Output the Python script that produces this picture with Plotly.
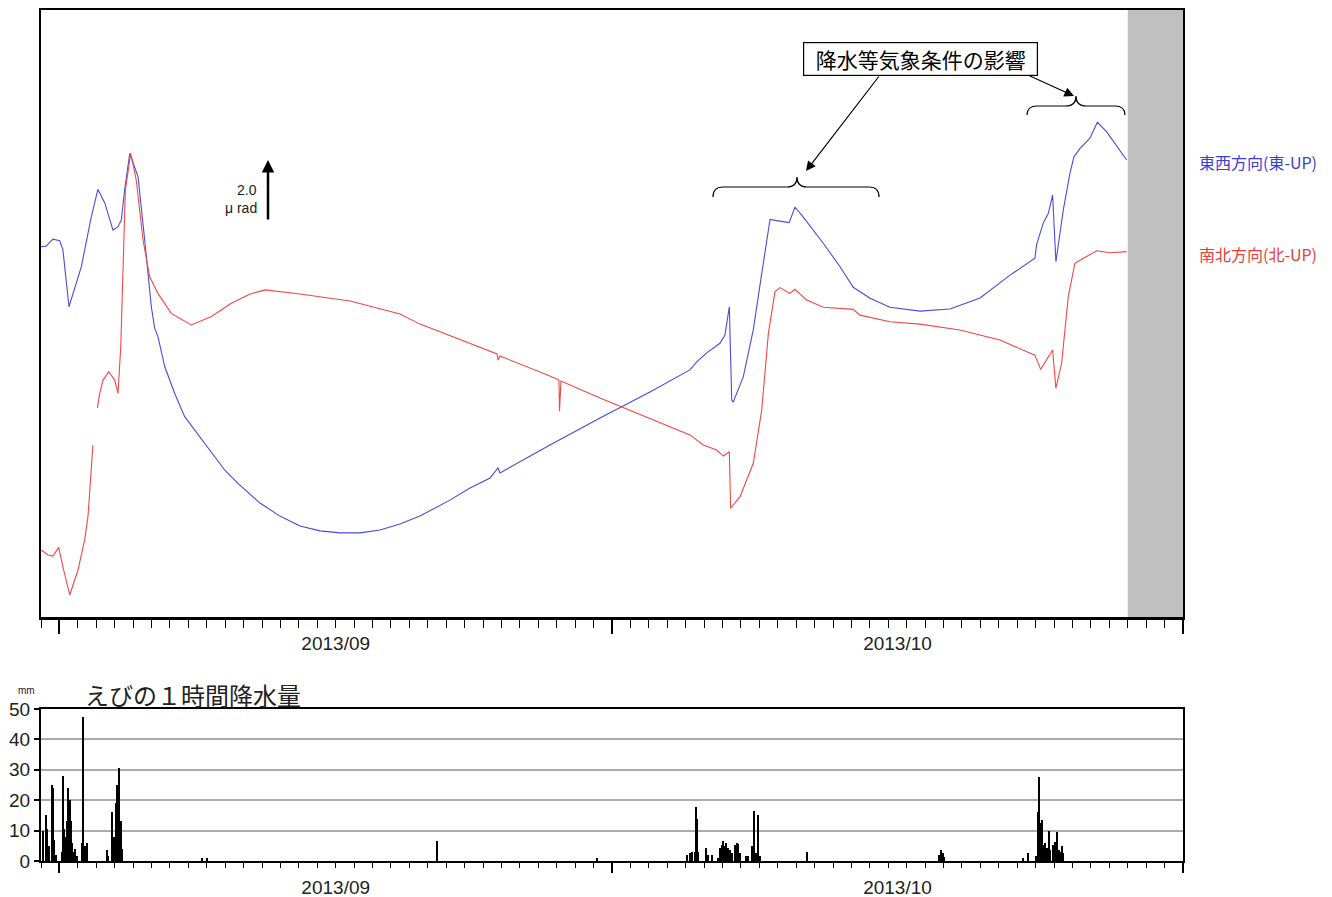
import pandas as pd
import plotly.graph_objects as go

W, H = 1332, 897
BASE = pd.Timestamp("2013-08-31 00:00")

# ---------------- data ----------------
# elapsed days since 2013-08-31 00:00 ; tilt in μrad (relative level)
ew_days = [0.00, 0.27, 0.65, 1.02, 1.19, 1.52, 2.19, 2.73, 3.09, 3.46, 3.91, 4.18, 4.36, 4.54, 4.82,
           5.27, 5.63, 5.99, 6.17, 6.35, 6.72, 7.26, 7.80, 8.89, 9.97, 10.69, 11.89, 12.97, 14.06,
           15.15, 16.23, 17.32, 18.40, 19.49, 20.57, 22.20, 23.29, 24.38, 24.81, 24.92, 27.63, 30.35,
           33.06, 35.23, 35.60, 36.14, 36.86, 37.13, 37.37, 37.50, 37.58, 38.13, 38.67, 39.13, 39.58,
           39.94, 40.62, 40.93, 41.30, 42.47, 43.38, 44.10, 45.01, 46.09, 47.72, 49.35, 50.98, 52.61,
           53.96, 54.05, 54.41, 54.69, 54.92, 55.10, 55.50, 55.86, 56.08, 56.41, 56.95, 57.35, 57.86,
           58.94]
ew_urad = [12.77, 12.79, 13.03, 12.98, 12.66, 10.70, 12.08, 13.80, 14.75, 14.28, 13.34, 13.46, 13.69,
           14.72, 15.99, 15.18, 13.00, 10.70, 9.96, 9.67, 8.63, 7.71, 6.91, 5.99, 5.07, 4.61, 3.93,
           3.48, 3.14, 2.97, 2.90, 2.90, 3.00, 3.21, 3.48, 4.03, 4.45, 4.79, 5.14, 4.97, 5.93, 6.86,
           7.76, 8.52, 8.80, 9.11, 9.44, 9.72, 10.70, 7.48, 7.41, 8.29, 9.90, 11.85, 13.71, 13.67,
           13.60, 14.13, 13.86, 12.89, 12.08, 11.37, 10.99, 10.68, 10.55, 10.62, 11.00, 11.79, 12.37,
           12.83, 13.58, 13.92, 14.55, 12.25, 14.03, 15.30, 15.87, 16.16, 16.51, 17.06, 16.73, 15.76]

ns_days = [0.02, 0.38, 0.65, 0.96, 1.19, 1.56, 2.01, 2.37, 2.55, 2.82, 2.94, 3.06, 3.19, 3.37, 3.68,
           4.00, 4.18, 4.33, 4.45, 4.58, 4.87, 5.17, 5.54, 5.90, 6.35, 7.07, 8.16, 9.25, 10.33, 11.35,
           12.16, 14.06, 16.78, 19.49, 20.58, 22.20, 24.76, 24.81, 24.92, 27.63, 28.12, 28.15, 28.23,
           30.35, 33.06, 35.23, 35.96, 36.68, 37.04, 37.37, 37.44, 37.95, 38.67, 39.13, 39.49, 39.85,
           40.12, 40.66, 40.93, 41.57, 42.47, 44.10, 44.46, 46.09, 47.72, 49.89, 52.06, 53.96, 54.27,
           54.60, 54.92, 55.10, 55.41, 55.77, 56.13, 56.59, 57.32, 58.04, 58.94]
ns_urad = [2.31, 2.14, 2.10, 2.40, 1.73, 0.76, 1.62, 2.66, 3.46, 5.93, None, 7.21, 7.72, 8.17, 8.46,
           8.17, 7.71, 9.32, 11.85, 14.72, 15.99, 15.07, 13.00, 11.73, 11.16, 10.47, 10.07, 10.36,
           10.82, 11.14, 11.28, 11.14, 10.90, 10.45, 10.10, 9.69, 9.07, 8.86, 9.00, 8.31, 8.17, 7.10,
           8.14, 7.55, 6.86, 6.28, 5.93, 5.76, 5.55, 5.70, 3.75, 4.15, 5.30, 7.14, 9.78, 11.22, 11.36,
           11.16, 11.30, 10.93, 10.68, 10.61, 10.41, 10.18, 10.10, 9.90, 9.55, 9.03, 8.54, 8.86, 9.21,
           7.89, 8.75, 11.04, 12.20, 12.37, 12.63, 12.56, 12.60]

# hourly precipitation at Ebino (mm)
rain_days = [0.12, 0.27, 0.34, 0.43, 0.58, 0.67, 0.72, 0.81, 1.12, 1.18, 1.25, 1.33, 1.40, 1.48, 1.57,
             1.63, 1.68, 1.75, 1.85, 1.95, 2.24, 2.29, 2.33, 2.39, 2.51, 3.57, 3.64, 3.84, 3.93, 3.99,
             4.07, 4.14, 4.20, 4.25, 4.33, 4.40, 8.72, 9.00, 21.50, 30.18, 35.05, 35.23, 35.33, 35.51,
             35.56, 35.61, 35.67, 36.10, 36.23, 36.41, 36.77, 36.86, 36.95, 37.04, 37.13, 37.22, 37.31,
             37.40, 37.50, 37.68, 37.77, 37.86, 37.95, 38.27, 38.40, 38.58, 38.72, 38.82, 38.94, 39.03,
             41.57, 48.77, 48.84, 48.95, 49.04, 53.33, 53.60, 54.02, 54.11, 54.14, 54.20, 54.24, 54.33,
             54.42, 54.51, 54.60, 54.74, 54.81, 54.92, 54.99, 55.05, 55.18, 55.25, 55.36, 55.45, 55.50]
rain_mm = [10, 15, 10.5, 5, 25, 24, 7, 2, 3, 28, 10.5, 8, 13, 24, 20,
           13, 6, 3, 4, 1.5, 6, 47.5, 3, 5, 6, 3.5, 1.5, 16, 5, 8,
           19, 25, 12, 30.7, 13, 4, 1, 1, 6.5, 1, 2, 2.6, 2.8, 3,
           17.9, 13.8, 3, 4.3, 2, 2, 1, 4.3, 5.4, 6.7, 4.8, 5.8, 4.3,
           3.7, 2.6, 5.4, 5.8, 5.6, 2.6, 1.7, 1.5, 4.8, 16.5, 2.6, 15, 1.5,
           3, 2, 3.6, 2.6, 1.3, 1, 2.6, 1.6, 4.3, 16.2, 27.7, 12.4, 13.5,
           5.3, 5.9, 4.3, 9.9, 3.6, 5.3, 3, 6.4, 9.5, 3.6, 3, 4.9, 2.6]

ew_name = "東西方向(東-UP)"
ns_name = "南北方向(北-UP)"
rain_title = "えびの１時間降水量"
callout_text = "降水等気象条件の影響"
x_start, x_end = BASE, pd.Timestamp("2013-11-01 00:00")
missing_start = pd.Timestamp("2013-10-29 00:00")

# ---------------- helpers ----------------
OFF = 8  # page body margin


def to_time(days):
    return [BASE + pd.to_timedelta(d, unit="D") for d in days]


def px(x):
    return (x - OFF) / W


def py(y):
    return 1 - (y - OFF) / H


BLUE = "#4a4ae0"
RED = "#f04848"
NARROW = "Liberation Sans Narrow, Liberation Sans, Arial, sans-serif"
CJK = "Noto Sans CJK JP, sans-serif"

fig = go.Figure()
fig.add_trace(go.Scatter(x=to_time(ew_days), y=ew_urad, mode="lines", name=ew_name,
                         line=dict(color=BLUE, width=1.1), xaxis="x", yaxis="y"))
fig.add_trace(go.Scatter(x=to_time(ns_days), y=ns_urad, mode="lines", name=ns_name,
                         line=dict(color=RED, width=1.1), connectgaps=False, xaxis="x", yaxis="y"))
fig.add_trace(go.Bar(x=to_time(rain_days), y=rain_mm, marker=dict(color="black", line=dict(width=0)),
                     width=5400000, xaxis="x2", yaxis="y2"))

xdom = [px(41), px(1183)]
common_x = dict(type="date", range=[x_start, x_end], domain=xdom, showline=True, mirror=True,
                linecolor="black", linewidth=2, ticks="outside", tickcolor="black", tickwidth=1.5,
                dtick="M1", tick0="2013-09-01", tickformat="%Y/%m", ticklabelmode="period",
                showgrid=False, zeroline=False, automargin=False,
                tickfont=dict(family=NARROW, size=19, color="#222"))

fig.update_layout(
    width=W, height=H, autosize=False, showlegend=False,
    margin=dict(l=0, r=0, t=0, b=0, pad=0, autoexpand=False),
    paper_bgcolor="white", plot_bgcolor="white",
    bargap=0,
    xaxis=dict(common_x, anchor="y", ticklen=14, ticklabelstandoff=-7, linewidth=2.5,
               minor=dict(ticks="outside", ticklen=8, dtick=86400000, tick0="2013-08-31",
                          tickcolor="black", tickwidth=1.3, showgrid=False)),
    yaxis=dict(domain=[py(617), py(9.5)], range=[0, 20.95], showticklabels=False, ticks="",
               showline=True, mirror=True, linecolor="black", linewidth=2,
               showgrid=False, zeroline=False, automargin=False),
    xaxis2=dict(common_x, anchor="y2", ticklen=10, ticklabelstandoff=-2,
                minor=dict(ticks="outside", ticklen=5, dtick=86400000, tick0="2013-08-31",
                           tickcolor="black", tickwidth=1.3, showgrid=False)),
    yaxis2=dict(domain=[py(861), py(709)], range=[0, 50], dtick=10, ticks="outside", ticklen=5,
                tickcolor="black", tickwidth=1.5, showline=True, mirror=True, linecolor="black",
                linewidth=2, showgrid=True, gridcolor="#acacac", gridwidth=1.5, zeroline=False,
                automargin=False, tickfont=dict(family=NARROW, size=19, color="#222")),
)

# missing-data band
fig.add_shape(type="rect", xref="x", yref="y domain", x0=missing_start, x1=x_end, y0=0, y1=1,
              fillcolor="#c0c0c0", line=dict(width=0), layer="below")


# braces
def brace(xl, xr, xt, yend, ymid, ytip, r=10):
    pts = [
        ("M", [(xl, yend)]),
        ("Q", [(xl, ymid), (xl + r, ymid)]),
        ("L", [(xt - r, ymid)]),
        ("Q", [(xt, ymid), (xt, ytip)]),
        ("Q", [(xt, ymid), (xt + r, ymid)]),
        ("L", [(xr - r, ymid)]),
        ("Q", [(xr, ymid), (xr, yend)]),
    ]
    s = ""
    for cmd, ps in pts:
        s += cmd + " " + " ".join(f"{px(a):.5f},{py(b):.5f}" for a, b in ps) + " "
    return s.strip()


for b in [(713, 879, 797, 197, 187, 177), (1027, 1125, 1076, 115, 106, 96)]:
    fig.add_shape(type="path", xref="paper", yref="paper", path=brace(*b),
                  line=dict(color="black", width=1.2))


def note(x, y, text, size, color="#222", family=CJK, xanchor="center", **kw):
    d = dict(x=px(x), y=py(y), xref="paper", yref="paper", text=text, showarrow=False,
             xanchor=xanchor, yanchor="middle", font=dict(family=family, size=size, color=color))
    d.update(kw)
    return d


ann = []
# callout box
ann.append(note(921, 59, "\u2002" + callout_text + "\u2002", 21, color="black", bordercolor="black",
                borderwidth=1.2, borderpad=1, bgcolor="white"))
# callout arrows
ann.append(dict(x=px(806), y=py(171), xref="paper", yref="paper", text="", showarrow=True,
                ax=880 - 806, ay=75 - 171, arrowhead=2, arrowsize=1.6, arrowwidth=1.2, arrowcolor="black"))
ann.append(dict(x=px(1074), y=py(96), xref="paper", yref="paper", text="", showarrow=True,
                ax=1028 - 1074, ay=75 - 96, arrowhead=2, arrowsize=1.6, arrowwidth=1.2, arrowcolor="black"))
# scale arrow
ann.append(dict(x=px(268), y=py(160), xref="paper", yref="paper", text="", showarrow=True,
                ax=0, ay=61, arrowhead=2, arrowsize=1.0, arrowwidth=2.5, arrowcolor="black"))
ann.append(note(259, 190, "2.0", 14, family="Liberation Sans, sans-serif", xanchor="right"))
ann.append(note(259, 208, "μ rad", 14, family="Liberation Sans, sans-serif", xanchor="right"))
# series labels
ann.append(note(1197, 162, ew_name, 16, color="#3c3cd8", xanchor="left"))
ann.append(note(1197, 254, ns_name, 16, color="#e83c3c", xanchor="left"))
# rain panel title and unit
ann.append(note(83, 694, rain_title, 24, xanchor="left"))
ann.append(note(26, 690, "mm", 10, family="Liberation Sans, sans-serif"))
fig.update_layout(annotations=ann)

fig.write_html("out.html")
